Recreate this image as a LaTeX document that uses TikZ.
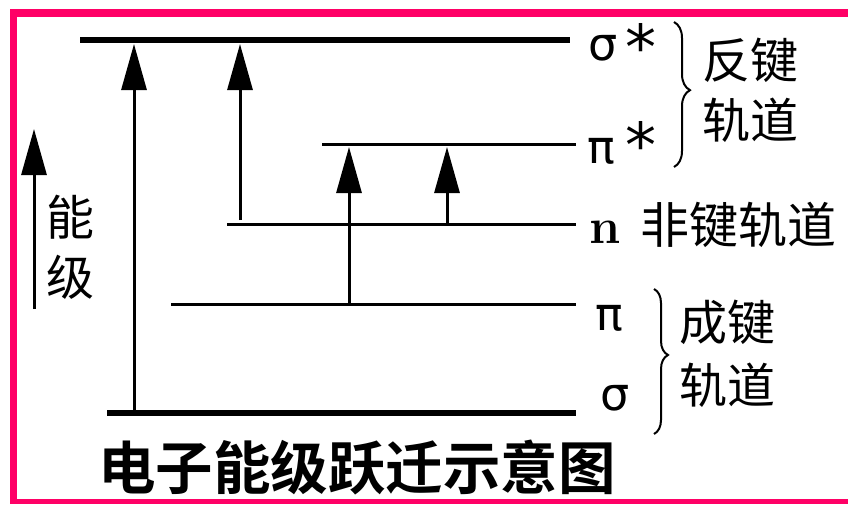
\documentclass[tikz,border=0pt]{standalone}
\usepackage{fontspec}
\usetikzlibrary{arrows.meta,decorations.pathreplacing}
\newfontfamily\cjk{Noto Sans CJK SC}
\newfontfamily\cjkb{Noto Sans CJK SC Bold}
\newfontfamily\gk{DejaVu Sans}
\definecolor{framepink}{RGB}{255,0,102}
\begin{document}
\begin{tikzpicture}[x=1pt,y=-1pt,
  lvl/.style={line width=3pt},
  lvlthick/.style={line width=6pt},
  up/.style={line width=3pt,-{Triangle[length=46pt,width=25pt]}},
  lab/.style={inner sep=0pt,anchor=base west,font=\cjk\fontsize{48}{48}\selectfont},
  gr/.style={inner sep=0pt,anchor=base west,font=\gk\fontsize{46}{46}\selectfont},
  star/.style={inner sep=0pt,anchor=base west,font=\gk\fontsize{62}{62}\selectfont},
  brc/.style={decorate,line width=2pt}]
\useasboundingbox (0,0) rectangle (848,504);
\fill[white] (0,0) rectangle (848,504);
% frame
\fill[framepink] (10,9) rectangle (848,17);
\fill[framepink] (10,9) rectangle (17,504);
\fill[framepink] (10,499) rectangle (848,504);
% levels
\coordinate (ssL) at (80,40);   \coordinate (ssR) at (570,40);
\coordinate (psL) at (322,144.5); \coordinate (psR) at (576,144.5);
\coordinate (nL) at (227,224.5);  \coordinate (nR) at (576,224.5);
\coordinate (pL) at (171,304);    \coordinate (pR) at (576,304);
\coordinate (sL) at (107,413);    \coordinate (sR) at (576,413);
\draw[lvlthick] (ssL) -- (ssR);
\draw[lvl] (psL) -- (psR);
\draw[lvl] (nL) -- (nR);
\draw[lvl] (pL) -- (pR);
\draw[lvlthick] (sL) -- (sR);
% transitions
\coordinate (a1s) at (134,410); \coordinate (a1e) at (134,44);
\coordinate (a2s) at (240,220); \coordinate (a2e) at (240,44);
\coordinate (a3s) at (349,303); \coordinate (a3e) at (349,147);
\coordinate (a4s) at (447,224); \coordinate (a4e) at (447,147);
\coordinate (es) at (34,309);   \coordinate (ee) at (34,129);
\draw[up] (a1s) -- (a1e);
\draw[up] (a2s) -- (a2e);
\draw[up] (a3s) -- (a3e);
\draw[up] (a4s) -- (a4e);
\draw[up] (es) -- (ee);
% energy label
\node[lab] (neng) at (46,235) {能};
\node[lab] (nji) at (46,295) {级};
% orbital labels
\node[gr] (tss) at (588,60) {σ};
\node[star] (tssa) at (625,69) {*};
\node[gr] (tps) at (587,163) {π};
\node[star] (tpsa) at (625,167) {*};
\node[inner sep=0pt,anchor=base west,font=\fontsize{50}{50}\selectfont\bfseries] (tn) at (589,243) {n};
\node[gr] (tp) at (595,330) {π};
\node[gr] (ts) at (600,410) {σ};
% braces
\coordinate (b1t) at (674,22); \coordinate (b1b) at (674,167);
\draw[brc,decoration={brace,amplitude=16pt,aspect=0.47}] (b1t) -- (b1b);
\coordinate (b2t) at (654,289); \coordinate (b2b) at (654,434);
\draw[brc,decoration={brace,amplitude=14pt,aspect=0.455}] (b2t) -- (b2b);
\node[lab] (tfj) at (702,78) {反键};
\node[lab] (tgd1) at (702,138) {轨道};
\node[lab,font=\cjk\fontsize{49}{49}\selectfont] (tfjgd) at (640,243) {非键轨道};
\node[lab] (tcj) at (679,340) {成键};
\node[lab] (tgd2) at (679,403) {轨道};
% title
\node[inner sep=0pt,anchor=base west,font=\cjkb\fontsize{57.5}{57.5}\selectfont] (title) at (98,489) {电子能级跃迁示意图};
\end{tikzpicture}
\end{document}
